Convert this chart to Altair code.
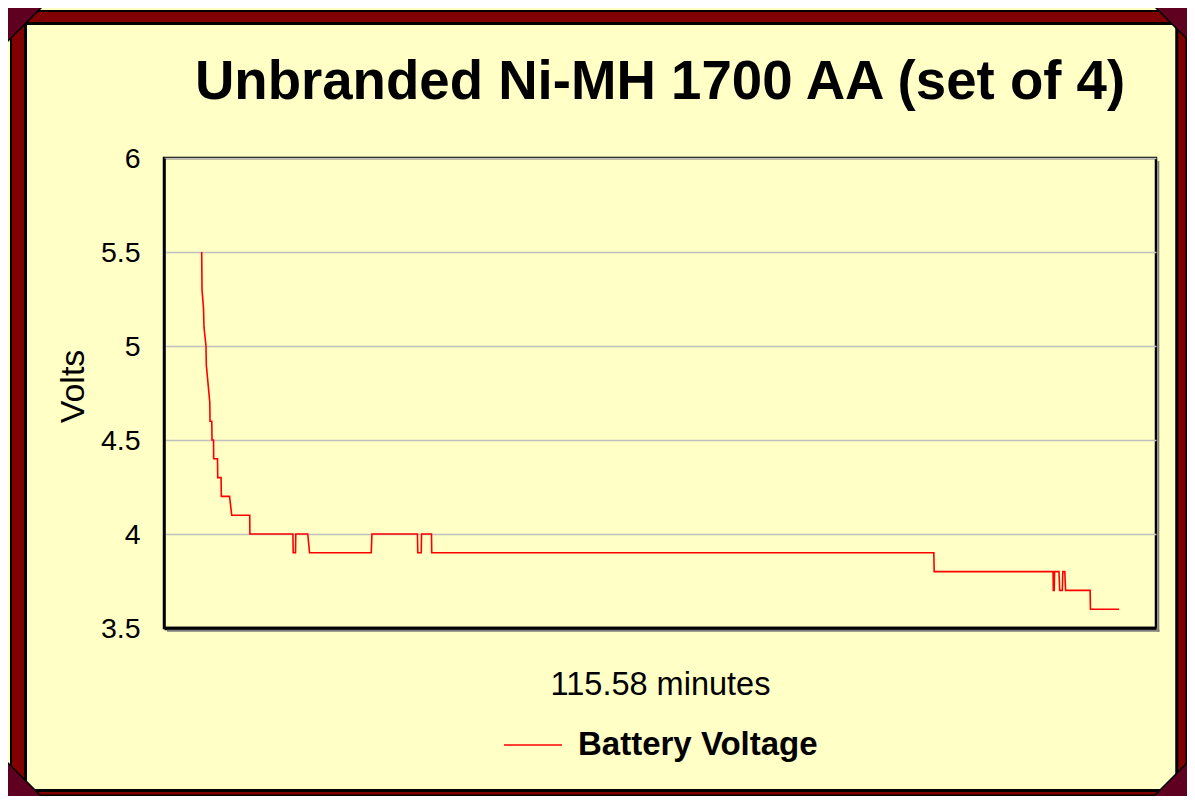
import altair as alt
import pandas as pd

# ---- data ----
minutes = [0.00, 0.04, 0.23, 0.29, 0.54, 0.58, 1.02, 1.05, 1.27, 1.30, 1.49, 1.51,
           1.99, 2.02, 2.44, 2.47, 3.51, 3.78, 6.05, 6.07, 11.49, 11.53, 11.82, 11.85,
           13.36, 13.59, 21.36, 21.45, 27.18, 27.22, 27.66, 27.70, 28.95, 28.98,
           92.24, 92.28, 107.26, 107.29, 107.41, 107.45, 108.01, 108.09, 108.43,
           108.49, 108.74, 108.84, 111.93, 111.97, 115.58]
volts = [5.5, 5.3, 5.2, 5.1, 5.0, 4.9, 4.7, 4.6, 4.6, 4.5, 4.5, 4.4,
         4.4, 4.3, 4.3, 4.2, 4.2, 4.1, 4.1, 4.0, 4.0, 3.9, 3.9, 4.0,
         4.0, 3.9, 3.9, 4.0, 4.0, 3.9, 3.9, 4.0, 4.0, 3.9,
         3.9, 3.8, 3.8, 3.7, 3.7, 3.8, 3.8, 3.7, 3.7,
         3.8, 3.8, 3.7, 3.7, 3.6, 3.6]
series_name = "Battery Voltage"
y_ticks = [3.5, 4, 4.5, 5, 5.5, 6]
chart_title = "Unbranded Ni-MH 1700 AA (set of 4)"
x_title = "115.58 minutes"
y_title = "Volts"

df = pd.DataFrame({"minutes": minutes, "volts": volts, "series": series_name})

W, H = 992, 470
FONT = "Liberation Sans"
YELLOW = "#FFFFC6"
RED = "#800000"
DARK = "#600020"

one = alt.Data(values=[{}])


def band(x1, x2, y1, y2, **kw):
    return alt.Chart(one).mark_rect(**kw).encode(
        x=alt.value(x1), x2=alt.value(x2), y=alt.value(y1), y2=alt.value(y2))


def corner(cx, cy, path, size):
    return alt.Chart(one).mark_point(
        shape=path, size=size, filled=True, fill=DARK, stroke="black",
        strokeWidth=1.5, opacity=1).encode(x=alt.value(cx), y=alt.value(cy))


# decorative frame (pixel offsets relative to plot origin)
frame = [
    band(-154, -138.5, -147, 638, fill=RED),
    band(1012.75, 1022.5, -147, 638, fill=RED),
    band(-154, 1022.5, -147, -134.5, fill=RED),
    band(-154, 1022.5, 632.5, 638, fill=RED),
    band(-153, 1022.5, -147, 637.5, fillOpacity=0, stroke="black", strokeWidth=2),
    band(-138.5, 1012.75, -134.5, 632.5, fillOpacity=0, stroke="black", strokeWidth=3),
    corner(-138.5, -134.5, "M-1,-1L1,-1L-1,1Z", 1369),
    corner(1006.5, -135.5, "M-1,-1L1,-1L1,1Z", 1225),
    corner(-139.5, 621.5, "M-1,-1L-1,1L1,1Z", 1225),
    corner(1006.5, 621.5, "M1,-1L1,1L-1,1Z", 1225),
]

title_text = alt.Chart(one).mark_text(
    text=chart_title, font=FONT, fontSize=54.6, fontWeight="bold", color="black",
    align="center", baseline="alphabetic").encode(x=alt.value(W / 2), y=alt.value(-59))

shadow_b = alt.Chart(one).mark_rule(color="#808080", strokeWidth=2).encode(
    x=alt.value(3), x2=alt.value(W + 3.5), y=alt.value(H + 2.8))
shadow_r = alt.Chart(one).mark_rule(color="#808080", strokeWidth=2).encode(
    x=alt.value(W + 2.3), y=alt.value(3), y2=alt.value(H + 3.8))

line = alt.Chart(df).mark_line(strokeWidth=1.6).encode(
    x=alt.X("minutes:Q", scale=alt.Scale(domain=[-4.75, 120.23], nice=False, zero=False),
            axis=alt.Axis(labels=False, ticks=False, grid=False, domainColor="black",
                          domainWidth=3.5, title=x_title, titleFont=FONT, titleFontSize=32.5,
                          titleFontWeight="normal", titleColor="black", titlePadding=40)),
    y=alt.Y("volts:Q", scale=alt.Scale(domain=[3.5, 6], nice=False, zero=False),
            axis=alt.Axis(values=y_ticks, format="~g", ticks=False, tickSize=0,
                          labelPadding=24, labelFont=FONT, labelFontSize=28.5,
                          labelColor="black", gridColor="#C0C0C0", gridWidth=1.5,
                          domainColor="black", domainWidth=2.5, title=y_title,
                          titleFont=FONT, titleFontSize=34, titleFontWeight="normal",
                          titleColor="black", titlePadding=10, titleY=228)),
    color=alt.Color("series:N", scale=alt.Scale(range=["#FF0000"]),
                    legend=alt.Legend(orient="none", legendX=339, legendY=557, title=None,
                                      symbolType="stroke", symbolSize=3364,
                                      symbolStrokeWidth=1.6, labelFont=FONT,
                                      labelFontSize=33, labelFontWeight="bold",
                                      labelColor="black", labelOffset=15, labelLimit=500)),
)

chart = alt.layer(*frame, title_text, shadow_b, shadow_r, line).properties(
    width=W, height=H,
    autosize=alt.AutoSizeParams(type="none"),
    padding={"left": 156, "top": 150, "right": 31, "bottom": 168},
    background=YELLOW,
).configure_view(stroke="black", strokeWidth=2.5)

chart.save("out.html", embed_options={"renderer": "svg", "actions": False})
